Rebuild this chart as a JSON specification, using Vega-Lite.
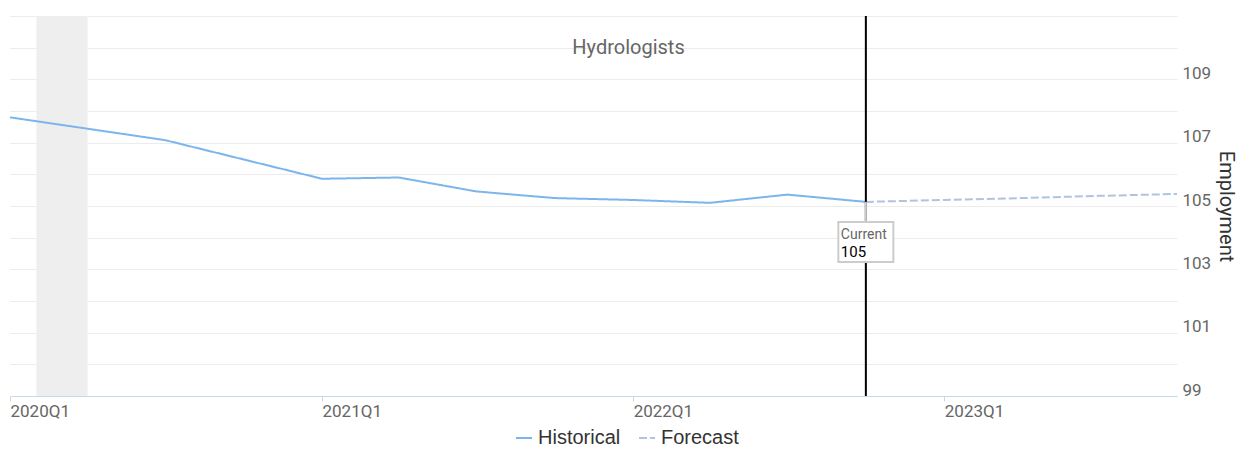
{
  "$schema": "https://vega.github.io/schema/vega-lite/v6.json",
  "width": 1167,
  "height": 380,
  "padding": {"left": 10, "top": 16, "right": 76, "bottom": 53},
  "autosize": {"type": "none"},
  "background": "white",
  "config": {"view": {"stroke": null}, "font": "Roboto"},
  "title": {
    "text": "Hydrologists",
    "orient": "top",
    "anchor": "middle",
    "frame": "group",
    "dx": 35,
    "offset": -57,
    "fontSize": 20,
    "fontWeight": "normal",
    "color": "#666666",
    "font": "Roboto"
  },
  "datasets": {
    "employment": [
      {"date": "2020-01-01", "value": 107.80, "series": "Historical"},
      {"date": "2020-04-01", "value": 107.44, "series": "Historical"},
      {"date": "2020-07-01", "value": 107.08, "series": "Historical"},
      {"date": "2020-10-01", "value": 106.47, "series": "Historical"},
      {"date": "2021-01-01", "value": 105.86, "series": "Historical"},
      {"date": "2021-04-01", "value": 105.90, "series": "Historical"},
      {"date": "2021-07-01", "value": 105.46, "series": "Historical"},
      {"date": "2021-10-01", "value": 105.25, "series": "Historical"},
      {"date": "2022-01-01", "value": 105.19, "series": "Historical"},
      {"date": "2022-04-01", "value": 105.10, "series": "Historical"},
      {"date": "2022-07-01", "value": 105.36, "series": "Historical"},
      {"date": "2022-10-01", "value": 105.13, "series": "Historical"},
      {"date": "2022-10-01", "value": 105.13, "series": "Forecast"},
      {"date": "2023-01-01", "value": 105.19, "series": "Forecast"},
      {"date": "2023-04-01", "value": 105.25, "series": "Forecast"},
      {"date": "2023-07-01", "value": 105.32, "series": "Forecast"},
      {"date": "2023-10-01", "value": 105.38, "series": "Forecast"}
    ],
    "recession": [
      {"start": "2020-02-01", "end": "2020-04-01"}
    ],
    "current": [
      {"date": "2022-10-01", "value": 105.13, "label": "Current", "valueText": "105"}
    ]
  },
  "layer": [
    {
      "data": {"name": "recession"},
      "mark": {"type": "rect", "fill": "#eeeeee"},
      "encoding": {
        "x": {"field": "start", "type": "temporal", "scale": {"type": "utc"}},
        "x2": {"field": "end"}
      }
    },
    {
      "data": {"name": "employment"},
      "mark": {"type": "line", "strokeWidth": 2},
      "encoding": {
        "x": {
          "field": "date",
          "type": "temporal",
          "scale": {
            "type": "utc",
            "domain": [
              {"year": 2020, "month": 1, "date": 1, "utc": true},
              {"year": 2023, "month": 10, "date": 1, "utc": true}
            ]
          },
          "axis": {
            "title": null,
            "values": [
              {"year": 2020, "month": 1, "date": 1, "utc": true},
              {"year": 2021, "month": 1, "date": 1, "utc": true},
              {"year": 2022, "month": 1, "date": 1, "utc": true},
              {"year": 2023, "month": 1, "date": 1, "utc": true}
            ],
            "tickCount": 10,
            "labelExpr": "utcFormat(datum.value, '%Y') + 'Q1'",
            "labelAlign": "left",
            "labelFlush": false,
            "labelFontSize": 17,
            "labelColor": "#666666",
            "labelFont": "Roboto",
            "labelPadding": 2,
            "tickColor": "#ccd6eb",
            "tickSize": 5,
            "domainColor": "#ccd6eb",
            "grid": false
          }
        },
        "y": {
          "field": "value",
          "type": "quantitative",
          "scale": {"domain": [99, 111], "nice": false, "zero": false},
          "axis": {
            "orient": "right",
            "title": "Employment",
            "titleFontSize": 20,
            "titleFontWeight": "normal",
            "titleColor": "#333333",
            "titleFont": "Roboto",
            "titlePadding": 5,
            "values": [99, 100, 101, 102, 103, 104, 105, 106, 107, 108, 109, 110, 111],
            "tickCount": 20,
            "format": "d",
            "labelExpr": "datum.value % 2 == 1 && datum.value < 111 ? datum.label : ''",
            "labelOverlap": false,
            "labelFontSize": 17,
            "labelColor": "#666666",
            "labelFont": "Roboto",
            "labelBaseline": "alphabetic",
            "labelOffset": -1,
            "labelPadding": 5,
            "ticks": false,
            "domain": false,
            "grid": true,
            "gridColor": "#ececec",
            "gridWidth": 1
          }
        },
        "color": {
          "field": "series",
          "type": "nominal",
          "scale": {"domain": ["Historical", "Forecast"], "range": ["#7cb5ec", "#b0c4de"]},
          "legend": {
            "orient": "none",
            "legendX": 504,
            "legendY": 412,
            "direction": "horizontal",
            "title": null,
            "symbolType": "stroke",
            "symbolStrokeWidth": 2,
            "symbolSize": 256,
            "labelFont": "Liberation Sans",
            "labelFontSize": 20,
            "labelColor": "#333333",
            "columnPadding": 14
          }
        },
        "strokeDash": {
          "field": "series",
          "type": "nominal",
          "scale": {"domain": ["Historical", "Forecast"], "range": [[1, 0], [8, 3]]},
          "legend": {
            "orient": "none",
            "legendX": 504,
            "legendY": 412,
            "direction": "horizontal",
            "title": null,
            "symbolType": "stroke",
            "symbolStrokeWidth": 2,
            "symbolSize": 256,
            "labelFont": "Liberation Sans",
            "labelFontSize": 20,
            "labelColor": "#333333",
            "columnPadding": 14
          }
        }
      }
    },
    {
      "data": {"name": "current"},
      "mark": {"type": "rule", "color": "#000000", "strokeWidth": 2},
      "encoding": {
        "x": {"field": "date", "type": "temporal"}
      }
    },
    {
      "data": {"name": "current"},
      "mark": {"type": "rule", "color": "#cccccc", "strokeWidth": 2},
      "encoding": {
        "x": {"field": "date", "type": "temporal"},
        "y": {"field": "value", "type": "quantitative"},
        "y2": {"datum": 104.47}
      }
    },
    {
      "data": {"name": "current"},
      "mark": {
        "type": "point",
        "shape": "M-1,-0.727H1V0.727H-1Z",
        "size": 3025,
        "filled": false,
        "fill": "#ffffff",
        "fillOpacity": 1,
        "stroke": "#cccccc",
        "strokeWidth": 2,
        "opacity": 1
      },
      "encoding": {
        "x": {"field": "date", "type": "temporal"},
        "y": {"datum": 103.86, "type": "quantitative"}
      }
    },
    {
      "data": {"name": "current"},
      "mark": {"type": "text", "align": "left", "baseline": "middle", "dx": -25, "fontSize": 14, "color": "#666666", "font": "Roboto"},
      "encoding": {
        "x": {"field": "date", "type": "temporal"},
        "y": {"datum": 104.09, "type": "quantitative"},
        "text": {"field": "label"}
      }
    },
    {
      "data": {"name": "current"},
      "mark": {"type": "text", "align": "left", "baseline": "middle", "dx": -25, "fontSize": 15, "color": "#000000", "font": "Roboto"},
      "encoding": {
        "x": {"field": "date", "type": "temporal"},
        "y": {"datum": 103.56, "type": "quantitative"},
        "text": {"field": "valueText"}
      }
    }
  ]
}
